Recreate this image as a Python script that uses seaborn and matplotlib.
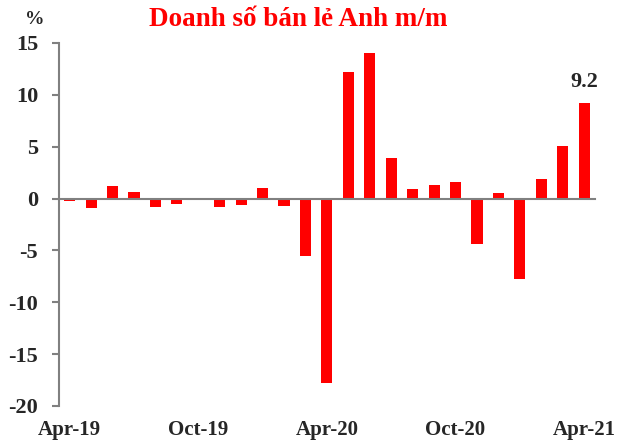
import matplotlib
matplotlib.use("Agg")
import matplotlib.pyplot as plt
import seaborn as sns

# Data
months = ["Apr-19", "May-19", "Jun-19", "Jul-19", "Aug-19", "Sep-19", "Oct-19",
          "Nov-19", "Dec-19", "Jan-20", "Feb-20", "Mar-20", "Apr-20", "May-20",
          "Jun-20", "Jul-20", "Aug-20", "Sep-20", "Oct-20", "Nov-20", "Dec-20",
          "Jan-21", "Feb-21", "Mar-21", "Apr-21"]
mom_change = [-0.2, -0.9, 1.2, 0.6, -0.8, -0.5, 0.0,
              -0.8, -0.6, 1.0, -0.7, -5.5, -17.8, 12.2,
              14.0, 3.9, 0.9, 1.3, 1.6, -4.4, 0.5,
              -7.8, 1.9, 5.1, 9.2]
yticks = [-20, -15, -10, -5, 0, 5, 10, 15]
label_months = ["Apr-19", "Oct-19", "Apr-20", "Oct-20", "Apr-21"]

sns.set_style("white")
plt.rcParams["font.family"] = ["Liberation Serif", "DejaVu Serif"]
plt.rcParams["font.weight"] = "bold"

fig = plt.figure(figsize=(6.19, 4.41), dpi=100)
ax = fig.add_axes([0.0953, 0.0794, 0.8657, 0.8231])

sns.barplot(x=months, y=mom_change, color="#FF0000", width=0.52,
            saturation=1, linewidth=0, ax=ax)

grey = "#808080"
ax.set_xlim(-0.5, len(months) - 0.5)
ax.set_ylim(-20, 15)
ax.set_yticks(yticks)
ax.set_yticklabels([str(v) for v in yticks], fontsize=16, fontweight="bold")

for side in ["top", "right"]:
    ax.spines[side].set_visible(False)
ax.spines["left"].set_color(grey)
ax.spines["left"].set_linewidth(1.5)
ax.spines["bottom"].set_color(grey)
ax.spines["bottom"].set_linewidth(1.5)
ax.spines["bottom"].set_position(("data", 0))

# tick marks between months, every six months
idx = [months.index(m) for m in label_months]
ax.set_xticks([i - 0.5 for i in idx[1:]])
ax.set_xticklabels([])
ax.tick_params(axis="x", direction="out", length=5, width=1.5, color=grey)
ax.tick_params(axis="y", direction="out", length=5, width=1.5, color=grey,
               pad=10, left=True)
ax.set_xlabel("")
ax.set_ylabel("")

# month labels at the bottom of the plot
sec = ax.secondary_xaxis("bottom")
sec.set_xticks(idx)
sec.set_xticklabels(label_months, fontsize=15, fontweight="bold")
sec.tick_params(length=0, pad=10)
sec.spines["bottom"].set_visible(False)

ax.annotate(f"{mom_change[-1]:.1f}", xy=(len(months) - 1, mom_change[-1]),
            xytext=(0, 8), textcoords="offset points", ha="center",
            va="bottom", fontsize=16, fontweight="bold")

fig.text(298.5 / 619, 1 - 20 / 441, "Doanh số bán lẻ Anh m/m", color="#FF0000",
         fontsize=19.5, fontweight="bold", ha="center", va="center")
fig.text(35 / 619, 1 - 19 / 441, "%", fontsize=14, fontweight="bold",
         ha="center", va="center")

plt.savefig("out.png", dpi=100)
